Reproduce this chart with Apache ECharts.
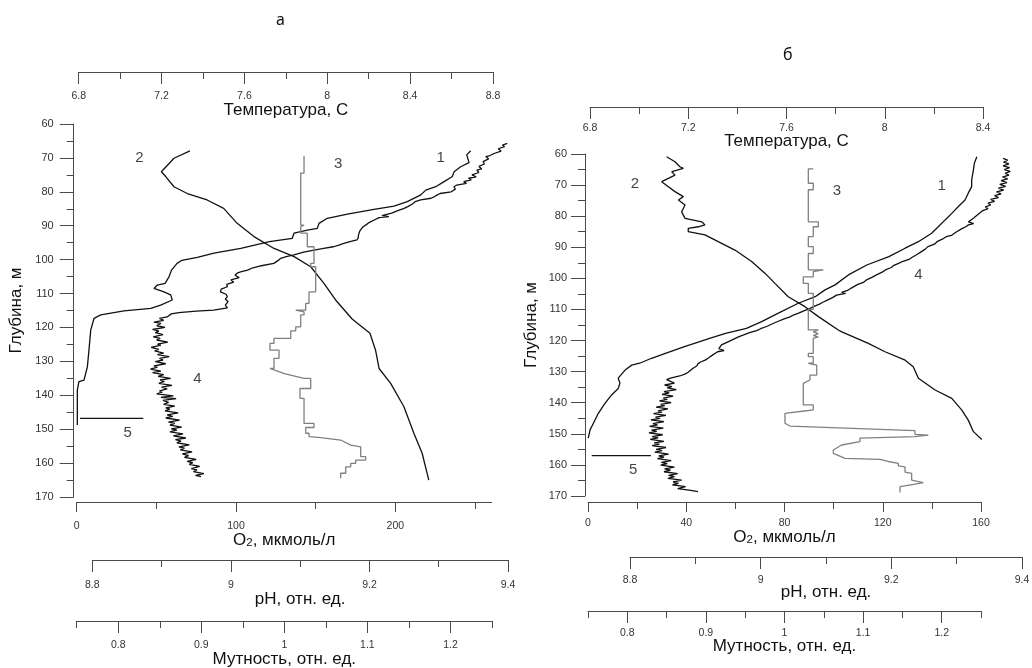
<!DOCTYPE html>
<html><head><meta charset="utf-8">
<script src="https://cdn.jsdelivr.net/npm/echarts@6/dist/echarts.min.js"></script>
<style>html,body{margin:0;padding:0;background:#fff}#c{width:1032px;height:668px}</style>
</head><body><div id="c"></div>
<script>
// ---------- Panel "а" (left) : [value, depth] ----------
const aTemp = [[7.337,67.9],[7.26,70.1],[7.199,74.1],[7.22,75.5],[7.26,78.5],[7.324,80.5],[7.42,82.4],[7.50,84.9],[7.565,89.3],[7.646,93.2],[7.743,96.7],[7.84,99.1],[7.92,102.1],[7.984,107],[8.04,111.9],[8.12,117.5],[8.206,121.7],[8.233,126.7],[8.25,132.1],[8.306,136.5],[8.37,143.4],[8.418,151.2],[8.458,157.1],[8.49,165]];
const aO2 = [[247.3,67.9],[244.8,69.1],[246.3,71.4],[241,72.6],[236.9,74.1],[235.8,75.5],[230.6,77],[225.4,78.5],[219.1,79.5],[216,80.9],[207.5,82.9],[199.2,84.2],[186.6,85.2],[169.9,86.6],[157.3,87.8],[152.1,89.3],[151,90.8],[144.8,91.3],[136.4,92.2],[135.3,93.7],[121,94.7],[103,96.7],[86.2,98.1],[75.7,99.3],[66,100.2],[63,101.1],[59.5,103.1],[58,105],[55.5,107],[50.6,107.5],[48.5,108.5],[54.8,109.5],[59,110.4],[60,111.9],[52.7,113.4],[46.5,114.4],[29.7,115.1],[15.1,116.3],[10.9,117.3],[8.8,120.8],[7.7,126.7],[6.7,131.6],[4.6,135.5],[1.4,136],[0.4,138.5],[0.4,148.8]];
const aPH = [[9.399,65.7],[9.392,66.2],[9.395,66.7],[9.386,67.3],[9.390,68.0],[9.380,68.7],[9.374,69.3],[9.368,69.6],[9.372,70.3],[9.364,71.1],[9.366,71.8],[9.358,72.5],[9.362,73.2],[9.355,73.6],[9.358,74.3],[9.348,75.0],[9.354,75.6],[9.343,76.0],[9.347,76.5],[9.336,77.0],[9.340,77.5],[9.326,78.0],[9.322,78.5],[9.324,79.2],[9.318,80.0],[9.302,80.5],[9.298,80.9],[9.294,81.4],[9.289,81.9],[9.274,82.4],[9.266,82.9],[9.262,83.6],[9.256,84.3],[9.250,84.9],[9.240,85.6],[9.232,86.3],[9.218,87.0],[9.228,87.3],[9.214,87.6],[9.207,88.3],[9.200,89.0],[9.196,89.6],[9.191,90.3],[9.188,91.0],[9.186,91.6],[9.185,92.2],[9.184,92.9],[9.184,93.5],[9.182,94.2],[9.172,94.7],[9.163,95.2],[9.156,95.7],[9.148,96.2],[9.134,96.7],[9.120,97.2],[9.105,97.8],[9.091,98.6],[9.080,99.1],[9.072,99.6],[9.068,100.3],[9.062,101.1],[9.044,101.8],[9.032,102.4],[9.024,103.1],[9.014,103.6],[9.009,104.0],[9.006,104.6],[9.012,105.3],[9.000,106.0],[9.004,106.6],[8.994,107.3],[8.995,108.0],[8.986,108.7],[8.985,109.5],[8.993,110.2],[8.995,110.9],[8.992,111.6],[8.996,112.4],[8.992,113.4],[8.995,114.2],[8.996,114.6],[8.975,114.9],[8.950,115.2],[8.925,115.6],[8.914,116.0],[8.912,116.3],
[8.908,116.9],[8.897,117.3],[8.903,117.9],[8.889,118.4],[8.899,118.8],[8.893,119.5],[8.905,120.0],[8.887,120.6],[8.896,121.1],[8.891,121.5],[8.902,122.1],[8.888,122.8],[8.898,123.2],[8.893,123.7],[8.909,124.3],[8.894,124.9],[8.899,125.2],[8.885,125.9],[8.896,126.5],[8.890,126.9],[8.903,127.6],[8.894,128.0],[8.911,128.6],[8.897,129.1],[8.902,129.6],[8.891,130.1],[8.906,130.7],[8.889,131.3],[8.894,131.7],[8.884,132.3],[8.899,132.9],[8.887,133.3],[8.903,133.9],[8.895,134.4],[8.913,135.0],[8.898,135.5],[8.904,135.9],[8.896,136.5],[8.915,137.1],[8.900,137.6],[8.908,138.1],[8.897,138.7],[8.901,139.1],[8.893,139.6],[8.917,140.2],[8.899,140.6],[8.921,141.0],[8.902,141.5],[8.910,142.1],[8.903,142.7],[8.919,143.2],[8.906,143.7],[8.912,144.1],[8.905,144.6],[8.924,145.2],[8.908,145.8],[8.916,146.2],[8.906,146.7],[8.926,147.3],[8.910,147.9],[8.919,148.3],[8.912,148.8],[8.929,149.4],[8.914,149.9],[8.922,150.3],[8.912,150.8],[8.931,151.4],[8.917,152.0],[8.935,152.6],[8.920,153.1],[8.928,153.5],[8.922,154.0],[8.940,154.6],[8.925,155.2],[8.933,155.6],[8.927,156.1],[8.944,156.7],[8.930,157.3],[8.939,157.8],[8.933,158.3],[8.950,158.9],[8.937,159.5],[8.945,159.9],[8.940,160.4],[8.955,161.0],[8.943,161.6],[8.951,162.0],[8.946,162.5],[8.961,163.1],[8.949,163.6],[8.957,164.0]];
const aTurb = [[1.0237,69.4],[1.0237,74.5],[1.0197,74.5],[1.0197,89.8],[1.0237,89.8],[1.0237,90.3],[1.0197,90.3],[1.0197,92.2],[1.0276,92.2],[1.0276,96.2],[1.0357,96.2],[1.0357,101.1],[1.0317,101.1],[1.0317,102.1],[1.0377,102.1],[1.0377,109.5],[1.0297,109.5],[1.0297,112.9],[1.0257,112.9],[1.0257,114.9],[1.0137,114.9],[1.0137,115.4],[1.0237,115.4],[1.0237,116.3],[1.0197,116.3],[1.0197,119.8],[1.0137,119.8],[1.0137,121.0],[1.0077,121.0],[1.0077,123.2],[0.9875,123.2],[0.9875,124.7],[0.9827,124.7],[0.9827,126.7],[0.9936,126.7],[0.9936,129.1],[0.9875,129.1],[0.9875,132.1],[0.9827,132.1],[0.9827,132.6],[1.0000,133.6],[1.0237,135],[1.0317,135],[1.0317,138],[1.0188,138],[1.0188,140.9],[1.0237,140.9],[1.0237,148.3],[1.0357,148.3],[1.0357,149.5],[1.0257,149.5],[1.0257,151.2],[1.0297,151.2],[1.0297,152.2],[1.0438,152.5],[1.0678,153.2],[1.0799,154.7],[1.0919,155.2],[1.0919,158.1],[1.0979,158.1],[1.0979,159.1],[1.0859,159.1],[1.0859,160.1],[1.0799,160.1],[1.0799,161.1],[1.0739,161.1],[1.0739,163],[1.0678,163],[1.0678,164.5]];
const aMark5 = [[2.1,146.8],[41.8,146.8]];
const aLabels = [[39.3,70.1,'2'],[164.2,71.8,'3'],[228.5,70.1,'1'],[75.7,135.2,'4'],[32,151.2,'5']];

// ---------- Panel "б" (right) ----------
const bTemp = [[7.112,60.9],[7.146,62.5],[7.166,64.1],[7.18,64.6],[7.133,65.7],[7.146,66.8],[7.092,68.9],[7.085,69.4],[7.119,70.5],[7.146,72.1],[7.18,73.7],[7.16,74.8],[7.187,76.4],[7.173,78.6],[7.187,80.7],[7.255,81.8],[7.268,82.8],[7.241,83.4],[7.2,83.9],[7.2,85],[7.268,86],[7.322,88.2],[7.39,90.9],[7.458,94.6],[7.513,98.4],[7.553,101.6],[7.607,105.9],[7.675,109.1],[7.73,112.3],[7.811,116.6],[7.825,117.2],[7.933,120.9],[8.001,123.6],[8.083,126.3],[8.116,128.4],[8.137,132.1],[8.205,135.9],[8.273,138.6],[8.313,142.3],[8.34,145.6],[8.361,149.3],[8.395,151.8]];
const bO2 = [[158.3,60.9],[157.3,63],[156.9,65.1],[156.2,68.4],[156.2,70.5],[154.8,72.6],[153.5,74.8],[150.8,76.9],[148.1,79.1],[145.4,81.2],[142.6,83.4],[139.9,85.5],[134.5,88.2],[129.1,90.3],[122.5,93],[113.5,95.7],[106,98.9],[100.6,102.1],[96.5,103.7],[92.5,105.9],[85.6,108],[77.5,111.2],[70.7,113.9],[64.5,116.1],[56,117.7],[49.5,119.3],[39,122],[31.5,124.1],[25.9,125.7],[21,127.3],[17.8,127.9],[15.1,129.5],[12.3,132.1],[13,133.7],[12.3,135.4],[9.6,137.5],[6.9,140.2],[4.2,143.4],[2.2,146.6],[0.8,148.8],[0.1,151.4]];
const bPH = [[9.371,61.4],[9.378,62.0],[9.372,62.6],[9.380,63.2],[9.371,63.8],[9.381,64.4],[9.373,65.0],[9.382,65.6],[9.374,66.2],[9.380,66.8],[9.370,67.4],[9.378,68.0],[9.368,68.6],[9.377,69.2],[9.366,69.8],[9.375,70.4],[9.364,71.0],[9.372,71.6],[9.361,72.2],[9.368,72.8],[9.358,73.4],[9.364,74.0],[9.352,74.6],[9.358,75.2],[9.348,75.8],[9.352,76.4],[9.344,77.0],[9.348,77.6],[9.340,78.2],[9.338,78.8],[9.333,79.4],[9.330,80.0],[9.326,80.6],[9.322,81.2],[9.318,81.8],
[9.326,82.4],[9.318,82.8],[9.314,83.4],[9.308,84.0],[9.306,84.6],[9.300,85.0],[9.296,85.6],[9.292,86.2],[9.284,86.6],[9.278,87.4],[9.270,88.2],[9.266,89.0],[9.256,89.8],[9.252,90.6],[9.246,91.4],[9.244,92.0],[9.238,92.5],[9.232,93.2],[9.228,93.8],[9.218,94.5],[9.211,95.2],[9.204,95.8],[9.200,96.5],[9.191,97.3],[9.186,98.0],[9.178,98.8],[9.171,99.6],[9.162,100.5],[9.158,101.2],[9.148,102.0],[9.146,102.6],[9.138,103.2],[9.133,103.9],[9.124,104.5],[9.130,104.8],[9.116,105.4],[9.110,106.2],[9.102,107.0],[9.096,107.6],[9.090,108.3],[9.081,109.1],[9.074,109.8],[9.067,110.4],[9.058,111.2],[9.050,111.8],[9.045,112.4],[9.036,113.0],[9.027,113.8],[9.018,114.6],[9.010,115.4],
[9.000,116.2],[8.994,116.8],[8.984,117.4],[8.974,118.2],[8.966,118.8],[8.958,119.6],[8.950,120.4],[8.940,121.4],[8.942,122.0],[8.936,122.6],[8.944,123.2],[8.934,123.6],[8.936,124.1],[8.924,125.0],[8.920,125.6],[8.915,126.3],[8.908,126.9],[8.904,127.5],[8.902,128.2],[8.896,129.0],[8.893,129.5],[8.889,130.2],[8.884,130.8],[8.876,131.4],[8.862,132.1],[8.856,132.6],
[8.858,133.2],[8.868,133.7],[8.853,134.3],[8.864,134.8],[8.857,135.2],[8.871,135.8],[8.852,136.4],[8.860,136.8],[8.849,137.3],[8.866,137.9],[8.851,138.5],[8.857,138.9],[8.845,139.4],[8.863,140.0],[8.847,140.5],[8.853,140.9],[8.840,141.4],[8.858,142.0],[8.843,142.6],[8.849,143.0],[8.836,143.5],[8.855,144.1],[8.839,144.6],[8.846,145.0],[8.832,145.5],[8.852,146.1],[8.835,146.7],[8.842,147.1],[8.830,147.6],[8.851,148.2],[8.833,148.8],[8.841,149.2],[8.829,149.7],[8.850,150.3],[8.834,150.9],[8.843,151.3],[8.831,151.8],[8.852,152.4],[8.837,152.9],[8.845,153.3],[8.834,153.8],[8.855,154.4],[8.840,155.0],[8.849,155.4],[8.838,155.9],[8.859,156.5],[8.844,157.1],[8.852,157.5],[8.842,158.0],[8.863,158.6],[8.848,159.2],[8.857,159.6],[8.847,160.1],[8.868,160.7],[8.853,161.3],[8.862,161.7],[8.852,162.2],[8.873,162.8],[8.859,163.4],[8.868,163.8],[8.858,164.3],[8.879,164.9],[8.866,165.5],[8.874,165.9],[8.865,166.4],[8.885,167.0],[8.873,167.6],[8.893,168.2],[8.904,168.6]];
const bTurb = [[1.0366,64.8],[1.0303,64.8],[1.0303,69.4],[1.0366,69.4],[1.0366,71.5],[1.0303,71.5],[1.0303,81.8],[1.043,81.8],[1.043,83.4],[1.0366,83.4],[1.0366,86.6],[1.0303,86.6],[1.0303,89.8],[1.0366,89.8],[1.0366,92],[1.0303,92],[1.0303,97.3],[1.0494,97.3],[1.0494,97.8],[1.0366,97.8],[1.0366,99.5],[1.0239,99.5],[1.0239,101.6],[1.0303,101.6],[1.0303,104.8],[1.0366,104.8],[1.0366,110],[1.0303,110],[1.0303,116.6],[1.043,116.6],[1.0366,117.2],[1.043,117.8],[1.0366,118.4],[1.043,118.8],[1.0366,119.3],[1.0366,124.1],[1.0303,124.1],[1.0303,125.2],[1.0366,125.2],[1.0366,127.3],[1.0303,127.3],[1.0303,127.9],[1.041,127.9],[1.041,131.1],[1.0324,131.1],[1.0324,132.7],[1.0239,133.8],[1.0239,140.7],[1.0366,140.7],[1.0366,142.3],[1.0303,142.5],[1.0006,143.4],[1.0006,146.6],[1.0069,147.5],[1.166,149.0],[1.166,150.2],[1.183,150.4],[1.166,150.9],[1.096,151.4],[1.096,152.5],[1.0728,153.6],[1.0621,155.2],[1.0621,156.3],[1.077,157.9],[1.1215,158.2],[1.132,158.9],[1.1448,159.5],[1.1448,160.3],[1.1533,160.6],[1.1533,162.3],[1.1618,162.7],[1.1618,164.9],[1.1766,165.7],[1.166,166.2],[1.147,167],[1.147,168.9]];
const bMark5 = [[1.5,157],[25.6,157]];
const bLabels = [[19.1,69.6,'2'],[101.3,71.8,'3'],[144,70.3,'1'],[134.5,98.9,'4'],[18.4,161.6,'5']];

// ---------- tick values ----------
const aO2Major = [0,100,200], aO2Minor = [50,150,250];
const turbMajor = [0.8,0.9,1,1.1,1.2], turbMinor = [0.75,0.85,0.95,1.05,1.15,1.25];

const FONT = '"Liberation Sans", Arial, sans-serif';
const AX = '#4a4a4a';
const LBL = {fontSize:10.5, color:'#333', fontFamily:FONT};
const NAME = {fontSize:17, color:'#111', fontFamily:FONT, rich:{s:{fontSize:11.5, color:'#111', fontFamily:FONT, verticalAlign:'bottom', padding:[6,0,0,0]}}};

function grid(l,t,w,h){return {left:l, top:t, width:w, height:h, containLabel:false, outerBoundsMode:'none'};}
function xAx(o){
  const ax = {
    type:'value', gridIndex:o.g, position:o.pos, offset:o.off, min:o.min, max:o.max,
    axisLine:{show:o.line!==false, onZero:false, lineStyle:{color:AX, width:1}},
    axisTick:{show:true, inside:!!o.inside, length:o.tl, lineStyle:{color:AX, width:1}},
    splitLine:{show:false}, minorSplitLine:{show:false},
    axisLabel:Object.assign({show:o.lm!=null, inside:!!o.inside, margin:o.lm||0}, LBL),
    name:o.name||'', nameLocation:'middle', nameGap:o.ng||0, nameTextStyle:NAME, nameMoveOverlap:false
  };
  if (o.interval){ ax.interval=o.interval; ax.minorTick={show:true, splitNumber:2, length:7, lineStyle:{color:AX, width:1}}; }
  if (o.ticks){ ax.axisTick.customValues=o.ticks; }
  if (o.labels){ ax.axisLabel.customValues=o.labels; }
  return ax;
}
function yMain(g, off, lm, ng){
  return {type:'value', gridIndex:g, position:'left', offset:off, min:60, max:170, interval:10, inverse:true,
    axisLine:{show:true, onZero:false, lineStyle:{color:AX, width:1}},
    axisTick:{show:true, length:14, lineStyle:{color:AX}},
    minorTick:{show:true, splitNumber:2, length:7, lineStyle:{color:AX}},
    splitLine:{show:false}, minorSplitLine:{show:false},
    axisLabel:Object.assign({margin:lm}, LBL, {fontSize:11}),
    name:'Глубина, м', nameLocation:'middle', nameGap:ng, nameTextStyle:NAME, nameMoveOverlap:false};
}
function yHid(g){return {type:'value', gridIndex:g, min:60, max:170, inverse:true, show:false};}
function line(xi, data, color, w){
  return {type:'line', xAxisIndex:xi, data:data, symbol:'none', showSymbol:false, clip:false,
    lineStyle:{color:color, width:w}, itemStyle:{color:color}, silent:true, animation:false};
}
function labels(xi, arr){
  return {type:'scatter', xAxisIndex:xi, symbolSize:1, itemStyle:{color:'rgba(0,0,0,0)'}, silent:true, animation:false,
    data: arr.map(a=>({value:[a[0],a[1]], name:a[2]})),
    label:{show:true, position:'inside', formatter:'{b}', fontSize:15, color:'#111', fontFamily:FONT}};
}

const option = {
  animation:false,
  backgroundColor:'#fff',
  title:[
    {text:'а', left:271, top:7, textStyle:{fontSize:16, fontWeight:'normal', color:'#111', fontFamily:'"Noto Sans", sans-serif'}},
    {text:'б', left:778, top:42, textStyle:{fontSize:16, fontWeight:'normal', color:'#111', fontFamily:'"Noto Sans", sans-serif'}}
  ],
  grid:[
    grid(76.7,124,415,373),   // 0 O2 a
    grid(78.7,124,414.3,373), // 1 T a
    grid(92.3,124,415.7,373), // 2 pH a
    grid(76.7,124,415.3,373), // 3 turb a
    grid(588,154,393,342),    // 4 O2 b
    grid(590,154,393,342),    // 5 T b
    grid(630,154,392,342),    // 6 pH b
    grid(588,154,393,342)     // 7 turb b
  ],
  xAxis:[
    xAx({g:0,pos:'bottom',off:5,min:0,max:260.5,tl:10,lm:19,ticks:aO2Major,labels:aO2Major,name:'O{s|2}, мкмоль/л',ng:29}),
    xAx({g:1,pos:'top',off:52,min:6.8,max:8.8,interval:0.4,tl:12,lm:19,inside:true,name:'Температура, С',ng:-47}),
    xAx({g:2,pos:'bottom',off:63,min:8.8,max:9.4,interval:0.2,tl:12,lm:20,name:'pH, отн. ед.',ng:31}),
    xAx({g:3,pos:'bottom',off:124,min:0.75,max:1.25,tl:12,lm:19,ticks:turbMajor,labels:turbMajor,name:'Мутность, отн. ед.',ng:30}),
    xAx({g:4,pos:'bottom',off:6,min:0,max:160,interval:40,tl:10,lm:16,name:'O{s|2}, мкмоль/л',ng:26}),
    xAx({g:5,pos:'top',off:47,min:6.8,max:8.4,interval:0.4,tl:12,lm:16,inside:true,name:'Температура, С',ng:-43}),
    xAx({g:6,pos:'bottom',off:61,min:8.8,max:9.4,interval:0.2,tl:12,lm:17.5,name:'pH, отн. ед.',ng:27}),
    xAx({g:7,pos:'bottom',off:115,min:0.75,max:1.25,tl:12,lm:17,ticks:turbMajor,labels:turbMajor,name:'Мутность, отн. ед.',ng:27}),
    xAx({g:0,pos:'bottom',off:5,min:0,max:260.5,tl:7,line:false,ticks:aO2Minor}),
    xAx({g:3,pos:'bottom',off:124,min:0.75,max:1.25,tl:7,line:false,ticks:turbMinor}),
    xAx({g:7,pos:'bottom',off:115,min:0.75,max:1.25,tl:7,line:false,ticks:turbMinor})
  ],
  yAxis:[
    yMain(0,3,20,49), yHid(1), yHid(2), yHid(3),
    yMain(4,3,18,45), yHid(5), yHid(6), yHid(7)
  ],
  series:[
    line(0, aO2, '#111', 1.3),
    line(1, aTemp, '#111', 1.3),
    line(2, aPH, '#111', 1.3),
    line(3, aTurb, '#808080', 1.3),
    line(0, aMark5, '#111', 1.2),
    labels(0, aLabels),
    line(4, bO2, '#111', 1.3),
    line(5, bTemp, '#111', 1.3),
    line(6, bPH, '#111', 1.3),
    line(7, bTurb, '#808080', 1.3),
    line(4, bMark5, '#111', 1.2),
    labels(4, bLabels)
  ]
};
// each series uses the y axis of the grid that holds its x axis (y axis index == grid index)
option.series.forEach(s=>{ s.yAxisIndex = option.xAxis[s.xAxisIndex].gridIndex; });
const chart = echarts.init(document.getElementById('c'));
chart.setOption(option);
</script></body></html>
